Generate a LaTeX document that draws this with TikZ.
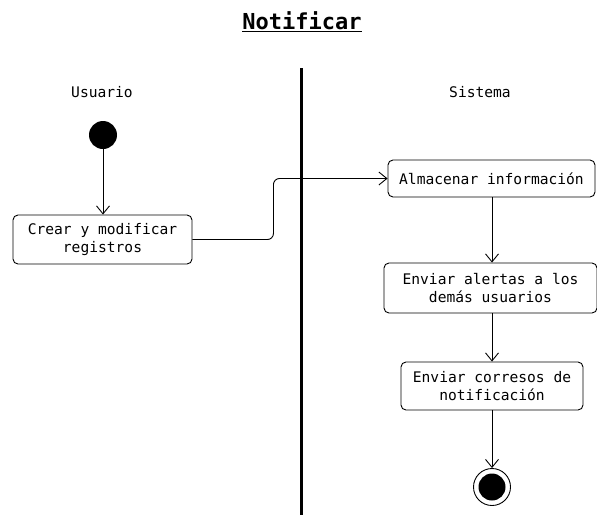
\documentclass[tikz,border=0pt]{standalone}
\usepackage{fontspec}
\setmainfont{DejaVu Sans Mono}
\usetikzlibrary{arrows.meta}
\begin{document}
\begin{tikzpicture}[x=1pt,y=-1pt,
  actbox/.style={draw, line width=0.9pt, rounded corners=5pt, inner sep=0pt,
    align=center, font=\fontsize{14.6pt}{18pt}\selectfont},
  lbl/.style={font=\fontsize{14.6pt}{18pt}\selectfont},
  flow/.style={line width=0.9pt, -{Straight Barb[length=8pt,width=13pt,line width=0.9pt]}}]
\useasboundingbox (0,0) rectangle (597,515);
% title
\node (title) at (302,22) {\fontsize{22pt}{26pt}\selectfont\underline{\textbf{Notificar}}};
% swimlane separator
\coordinate (sepTop) at (301.5,68);
\coordinate (sepBot) at (301.5,515);
\draw[line width=3pt] (sepTop) -- (sepBot);
% lane titles
\node[lbl] (usr) at (102,92) {Usuario};
\node[lbl] (sis) at (480,92) {Sistema};
% initial node
\node[circle, fill=black, minimum size=28pt, inner sep=0pt] (start) at (103,135) {};
% activities
\node[actbox, minimum width=179pt, minimum height=49pt] (c1) at (102.5,239.5) {Crear y modificar\\registros};
\node[actbox, minimum width=207pt, minimum height=37pt] (alm) at (491.5,178.5) {Almacenar información};
\node[actbox, minimum width=213pt, minimum height=50pt] (env) at (490.5,288) {Enviar alertas a los\\demás usuarios};
\node[actbox, minimum width=182pt, minimum height=48pt] (cor) at (492,386) {Enviar corresos de\\notificación};
% final node
\node[circle, draw, line width=0.9pt, minimum size=37pt, inner sep=0pt] (fin) at (492,487) {};
\node[circle, fill=black, minimum size=27pt, inner sep=0pt] (finDot) at (fin.center) {};
% flows
\draw[flow] (start.south) -- (start.south |- c1.north);
\draw[flow, rounded corners=6pt] (c1.east) -- ++(81,0) |- (alm.west);
\draw[flow] (alm.south -| cor.north) -- (cor.north |- env.north);
\draw[flow] (env.south -| cor.north) -- (cor.north);
\draw[flow] (cor.south) -- (fin.north);
\end{tikzpicture}
\end{document}
